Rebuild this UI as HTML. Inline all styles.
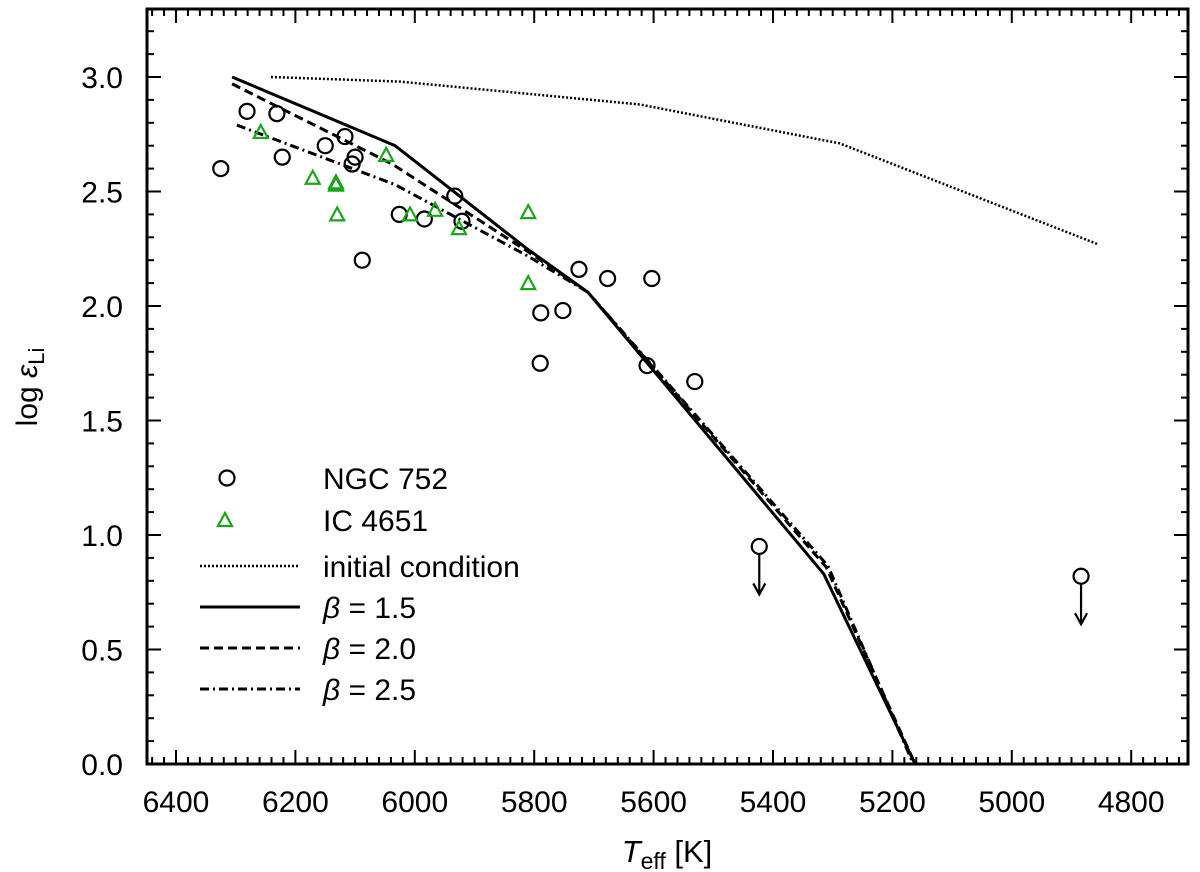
<!DOCTYPE html>
<html><head><meta charset="utf-8"><style>
body{margin:0;background:#fff}
svg{display:block;font-family:"Liberation Sans",Arial,sans-serif}
</style></head><body>
<svg id="chart" width="1200" height="872" xmlns="http://www.w3.org/2000/svg">
<g id="ticks"></g>
<g id="series"></g>
<g id="points"></g>
<rect x="147" y="9" width="1041" height="755" fill="none" stroke="#000" stroke-width="3"/>
<text x="667" y="862" font-size="31" text-anchor="middle"><tspan font-style="italic">T</tspan><tspan font-size="23" dy="7">eff</tspan><tspan dy="-7"> [K]</tspan></text>
<text transform="translate(37,387) rotate(-90)" font-size="30" text-anchor="middle">log <tspan font-style="italic">ε</tspan><tspan font-size="22" dy="7">Li</tspan></text>
<g id="legend">
<circle cx="227" cy="478" r="7.5" fill="none" stroke="#000" stroke-width="2.2"/>
<text x="323" y="489" font-size="30">NGC 752</text>
<polygon points="218,526 232,526 225,513" fill="none" stroke="#1aa51a" stroke-width="2.2"/>
<text x="323" y="531" font-size="30">IC 4651</text>
<line x1="200" y1="566" x2="300" y2="566" stroke="#000" stroke-width="2.5" stroke-dasharray="2,2"/>
<text x="323" y="577" font-size="30">initial condition</text>
<line x1="200" y1="607" x2="300" y2="607" stroke="#000" stroke-width="3"/>
<text x="323" y="618" font-size="30"><tspan font-style="italic">β</tspan> = 1.5</text>
<line x1="200" y1="648" x2="300" y2="648" stroke="#000" stroke-width="3" stroke-dasharray="9,5"/>
<text x="323" y="659" font-size="30"><tspan font-style="italic">β</tspan> = 2.0</text>
<line x1="200" y1="689" x2="300" y2="689" stroke="#000" stroke-width="3" stroke-dasharray="9,4,2,4"/>
<text x="323" y="700" font-size="30"><tspan font-style="italic">β</tspan> = 2.5</text>
</g>
</svg>
<script>
const xTicks=[6400,6200,6000,5800,5600,5400,5200,5000,4800];
const yTicks=[0.0,0.5,1.0,1.5,2.0,2.5,3.0];
const ngcT=[6325,6281,6231,6222,6150,6117,6100,6105,6088,6026,5984,5933,5921,5725,5677,5603,5789,5752,5790,5611,5531];
const ngcLi=[2.60,2.85,2.84,2.65,2.70,2.74,2.65,2.62,2.20,2.40,2.38,2.48,2.37,2.16,2.12,2.12,1.97,1.98,1.75,1.74,1.67];
const limT=[5423,4884];
const limLi=[0.95,0.82];
const icT=[6258,6171,6132,6132,6130,6048,6008,5966,5926,5810,5810];
const icLi=[2.76,2.56,2.54,2.53,2.40,2.66,2.40,2.42,2.34,2.41,2.10];
const initT=[6241,6025,5623,5288,4856];
const initLi=[3.0,2.98,2.88,2.71,2.27];
const b15T=[6306,6033,5812,5710,5315,5162];
const b15Li=[3.0,2.70,2.25,2.06,0.83,0.0];
const b20T=[6306,6038,5812,5710,5311,5162];
const b20Li=[2.97,2.62,2.24,2.06,0.86,0.0];
const b25T=[6298,6033,5812,5710,5308,5165];
const b25Li=[2.79,2.53,2.22,2.06,0.865,0.0];

const NS="http://www.w3.org/2000/svg";
function X(t){return 176+(6400-t)*0.597;}
function Y(v){return 764-v*229;}
function mk(tag,attrs,parent){const e=document.createElementNS(NS,tag);for(const k in attrs)e.setAttribute(k,attrs[k]);parent.appendChild(e);return e;}
const tk=document.getElementById('ticks');
for(let t=6460;t>=4660;t-=20){const x=X(t);if(x<148||x>1187)continue;const major=t%200===0;const len=major?14:7;
 let l=mk('line',{x1:x,y1:764,x2:x,y2:764-len,stroke:'#000','stroke-width':2},tk);
 
 
 let l2=mk('line',{x1:x,y1:9,x2:x,y2:9+len,stroke:'#000','stroke-width':2},tk);
 
 }
for(let i=0;i<=32;i++){const v=i/10;const y=Y(v);if(y<10)continue;const major=i%5===0;const len=major?14:7;
 let l=mk('line',{x1:147,y1:y,x2:147+len,y2:y,stroke:'#000','stroke-width':2},tk);
 
 
 let l2=mk('line',{x1:1188,y1:y,x2:1188-len,y2:y,stroke:'#000','stroke-width':2},tk);
 
 }
xTicks.forEach(t=>{const e=mk('text',{x:X(t),y:812,'font-size':30,'text-anchor':'middle'},tk);e.textContent=t;
 
 });
yTicks.forEach(v=>{const e=mk('text',{x:123,y:Y(v)+11,'font-size':30,'text-anchor':'end'},tk);e.textContent=v.toFixed(1);
 
 });
const sg=document.getElementById('series');
function line(T,L,name,dash,w){const p=mk('polyline',{points:T.map((t,i)=>X(t)+','+Y(L[i])).join(' '),fill:'none',stroke:'#000','stroke-width':w,'stroke-dasharray':dash},sg);
 
 }
line(initT,initLi,'initial-condition-line','2,2',2.5);
line(b15T,b15Li,'beta-1.5-line','none',3);
line(b20T,b20Li,'beta-2.0-line','9,5',3);
line(b25T,b25Li,'beta-2.5-line','9,4,2,4',3);
const pg=document.getElementById('points');
ngcT.forEach((t,i)=>{const c=mk('circle',{cx:X(t),cy:Y(ngcLi[i]),r:7.5,fill:'none',stroke:'#000','stroke-width':2.2},pg);
 
 });
limT.forEach((t,i)=>{const x=X(t),y=Y(limLi[i]);
 const c=mk('circle',{cx:x,cy:y,r:7.5,fill:'none',stroke:'#000','stroke-width':2.2},pg);
 
 
 const a=mk('path',{d:`M${x},${y+7} V${y+47} M${x-6},${y+37} L${x},${y+48} L${x+6},${y+37}`,fill:'none',stroke:'#000','stroke-width':2.2},pg);
 
 });
icT.forEach((t,i)=>{const x=X(t),y=Y(icLi[i]);
 const p=mk('polygon',{points:`${x-7},${y+6} ${x+7},${y+6} ${x},${y-7}`,fill:'none',stroke:'#1aa51a','stroke-width':2.2},pg);
 
 });
</script>
</body></html>
